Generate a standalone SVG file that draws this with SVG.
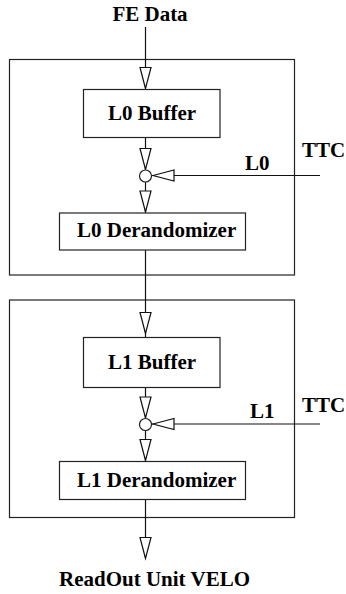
<svg xmlns="http://www.w3.org/2000/svg" width="346" height="594" viewBox="0 0 346 594">
<style>
.box{fill:none;stroke:#222;stroke-width:1.2}
.node{fill:#fff;stroke:#222;stroke-width:1.2}
.ln{fill:none;stroke:#111;stroke-width:1.2}
.ah{fill:#fff;stroke:#111;stroke-width:1.2;stroke-linejoin:miter}
text{font-family:"Liberation Serif","Times New Roman",serif;font-weight:bold;font-size:21px;fill:#000}
.c{text-anchor:middle}
</style>
<defs>
<path id="down" d="M0,0 L-5.5,-21 L5.5,-21 Z"/>
<path id="left" d="M0,0 L21,-5.5 L21,5.5 Z"/>
</defs>
<rect width="346" height="594" fill="#fff"/>
<g id="stage-L0"><rect class="box" x="9.5" y="59.5" width="285" height="215.5"/></g>
<g id="stage-L1"><rect class="box" x="9.5" y="300" width="285" height="217.5"/></g>
<g id="connectors">
<line class="ln" x1="145.5" y1="27" x2="145.5" y2="88"/>
<line class="ln" x1="145.5" y1="137.5" x2="145.5" y2="170"/>
<line class="ln" x1="145.5" y1="182" x2="145.5" y2="212.5"/>
<line class="ln" x1="145.5" y1="250" x2="145.5" y2="337.5"/>
<line class="ln" x1="145.5" y1="387.5" x2="145.5" y2="418.5"/>
<line class="ln" x1="145.5" y1="430.5" x2="145.5" y2="461.5"/>
<line class="ln" x1="145.5" y1="499.5" x2="145.5" y2="558"/>
<line class="ln" x1="320" y1="175.5" x2="152" y2="175.5"/>
<line class="ln" x1="320" y1="424" x2="152" y2="424"/>
<use href="#down" class="ah" x="145.5" y="88.5"/>
<use href="#down" class="ah" x="145.5" y="169.5"/>
<use href="#down" class="ah" x="145.5" y="212"/>
<use href="#down" class="ah" x="145.5" y="333.5"/>
<use href="#down" class="ah" x="145.5" y="418"/>
<use href="#down" class="ah" x="145.5" y="460.5"/>
<use href="#down" class="ah" x="145.5" y="558.5"/>
<use href="#left" class="ah" x="153" y="175.5"/>
<use href="#left" class="ah" x="153" y="424"/>
</g>
<g id="fe-data"><text class="c" x="150" y="21">FE Data</text></g>
<g id="l0-buffer"><rect class="node" x="83.5" y="89.5" width="136.5" height="48"/><text class="c" x="152" y="120">L0 Buffer</text></g>
<g id="l0-merge"><circle class="node" cx="145.5" cy="176" r="6"/></g>
<g id="ttc-l0"><text x="302" y="157">TTC</text><text x="245" y="170">L0</text></g>
<g id="l0-derandomizer"><rect class="node" x="59.5" y="213" width="186" height="37"/><text x="77" y="237">L0 Derandomizer</text></g>
<g id="l1-buffer"><rect class="node" x="83.5" y="337.5" width="136.5" height="50"/><text class="c" x="152" y="368.5">L1 Buffer</text></g>
<g id="l1-merge"><circle class="node" cx="145.5" cy="424.5" r="6"/></g>
<g id="ttc-l1"><text x="302" y="412">TTC</text><text x="250" y="418">L1</text></g>
<g id="l1-derandomizer"><rect class="node" x="59.5" y="461.5" width="186" height="38"/><text x="77" y="487">L1 Derandomizer</text></g>
<g id="readout"><text x="59" y="586">ReadOut Unit VELO</text></g>
</svg>
